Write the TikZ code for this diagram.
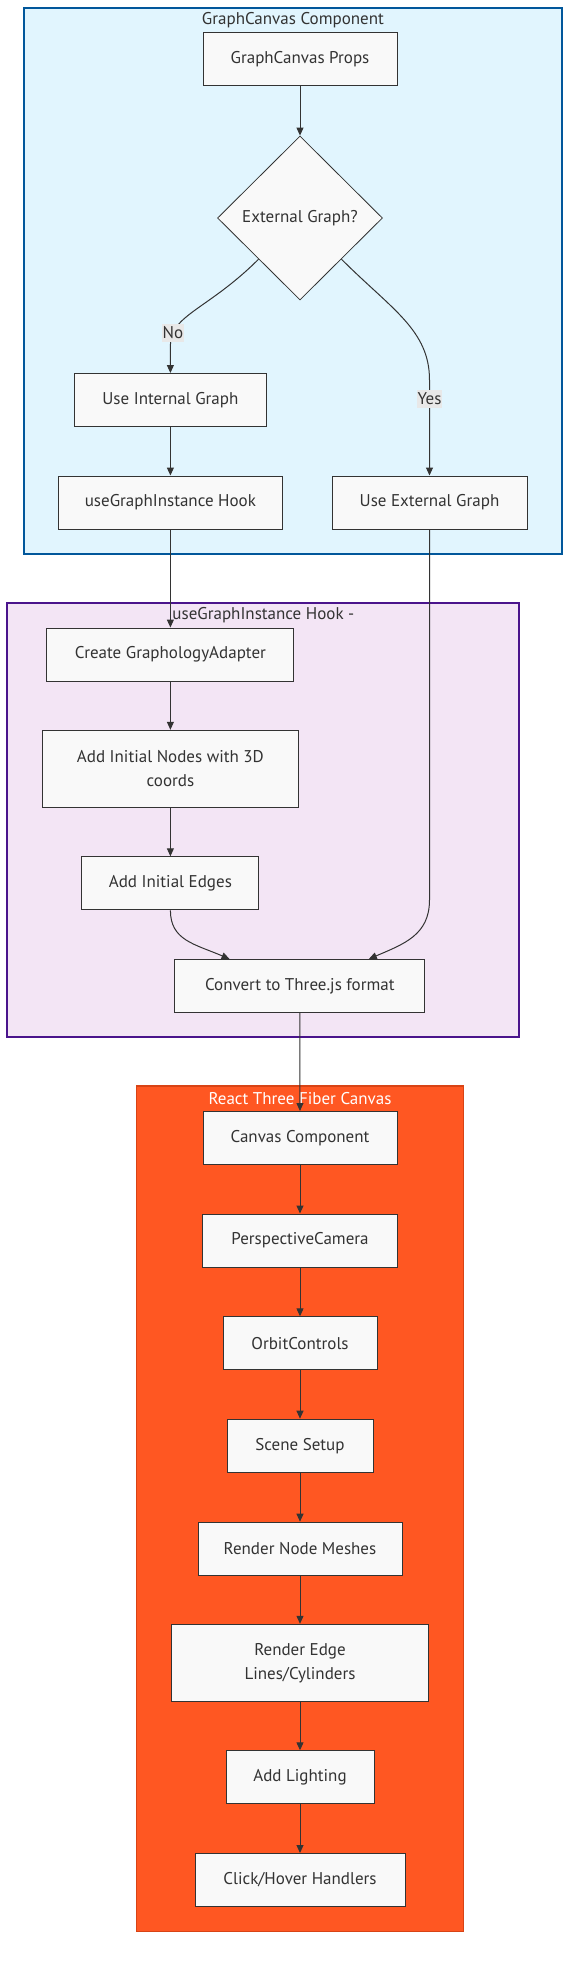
\documentclass[tikz,border=0pt]{standalone}
\usepackage{fontspec}
\setmainfont{PT Sans}
\usetikzlibrary{shapes.geometric, arrows.meta, calc}

\definecolor{gcfill}{HTML}{E1F5FE}
\definecolor{gcborder}{HTML}{01579B}
\definecolor{hookfill}{HTML}{F3E5F5}
\definecolor{hookborder}{HTML}{4A148C}
\definecolor{rtffill}{HTML}{FF5722}
\definecolor{rtfborder}{HTML}{D84315}
\definecolor{nodefill}{HTML}{F9F9F9}
\definecolor{darkgray}{HTML}{333333}
\definecolor{labelbg}{HTML}{E8E8E8}

\begin{document}
\begin{tikzpicture}[x=1pt, y=1pt, font=\fontsize{17}{24}\selectfont,
    main/.style = {draw=darkgray, fill=nodefill, line width=1pt, rectangle, minimum height=53pt, inner sep=0pt, align=center, text=darkgray},
    decision/.style = {draw=darkgray, fill=nodefill, line width=0.8pt, diamond, aspect=1, minimum width=165pt, minimum height=164pt, inner sep=0pt, text=darkgray},
    group/.style = {rectangle, line width=2pt, inner sep=0pt},
    grouptitle/.style = {inner sep=0pt, text=darkgray},
    lbl/.style = {fill=labelbg, inner xsep=1pt, inner ysep=3pt, text=darkgray},
    flow/.style = {-{Triangle[length=8pt, width=7pt]}, draw=darkgray, line width=1pt}]

    \useasboundingbox (0,0) rectangle (578,-1966);

    \node[group, draw=gcborder, fill=gcfill, minimum width=537.7pt, minimum height=546.5pt] (gc) at (292.85,-280.75) {};
    \node[group, draw=hookborder, fill=hookfill, minimum width=512pt, minimum height=433.7pt] (hk) at (263.4,-820.15) {};
    \node[group, draw=rtfborder, fill=rtffill, line width=1.5pt, minimum width=326.7pt, minimum height=845.7pt] (rtf) at (300.05,-1508.85) {};

    \node[grouptitle] (gctitle) at (292.9,-20) {GraphCanvas Component};
    \node[grouptitle] (hktitle) at (263.4,-615) {useGraphInstance Hook -};
    \node[grouptitle, text=white] (rtftitle) at (300,-1098.5) {React Three Fiber Canvas};

    \node[main, minimum width=194pt] (props) at (300,-59) {GraphCanvas Props};
    \node[decision] (ext) at (300,-218) {External Graph?};
    \node[main, minimum width=192pt] (internal) at (170.4,-400) {Use Internal Graph};
    \node[main, minimum width=224pt] (hook) at (170.4,-502.5) {useGraphInstance Hook};
    \node[main, minimum width=195pt] (external) at (429.5,-502.5) {Use External Graph};

    \node[main, minimum width=247pt] (adapter) at (170.4,-654.5) {Create GraphologyAdapter};
    \node[main, minimum width=256pt, minimum height=77pt] (addnodes) at (170.4,-768.8) {Add Initial Nodes with 3D\\coords};
    \node[main, minimum width=177pt] (addedges) at (170.4,-883.3) {Add Initial Edges};
    \node[main, minimum width=250pt] (convert) at (299.8,-986) {Convert to Three.js format};

    \node[main, minimum width=194pt] (canvas) at (300,-1138) {Canvas Component};
    \node[main, minimum width=195pt] (camera) at (300,-1240.5) {PerspectiveCamera};
    \node[main, minimum width=154pt] (orbit) at (300,-1343.3) {OrbitControls};
    \node[main, minimum width=146pt] (scene) at (300,-1445.7) {Scene Setup};
    \node[main, minimum width=204pt] (meshes) at (300,-1548.7) {Render Node Meshes};
    \node[main, minimum width=257pt, minimum height=77pt] (lines) at (300,-1662.8) {Render Edge\\Lines/Cylinders};
    \node[main, minimum width=148pt] (lighting) at (300,-1777.3) {Add Lighting};
    \node[main, minimum width=210pt] (handlers) at (300,-1880) {Click/Hover Handlers};

    \coordinate (nobend) at (170.4,-345);
    \coordinate (yesbend) at (429.5,-380);
    \coordinate (extbend) at (429.5,-900);

    \draw[flow] (props) -- (ext);
    \draw[flow] (ext.south west) .. controls +(-50,-50) and +(0,30) .. (nobend) node[lbl, pos=0.85] {No} -- (internal);
    \draw[flow] (ext.south east) .. controls +(50,-50) and +(0,50) .. (yesbend) -- (external) node[lbl, pos=0.2] {Yes};
    \draw[flow] (internal) -- (hook);
    \draw[flow] (hook) -- (adapter);
    \draw[flow] (adapter) -- (addnodes);
    \draw[flow] (addnodes) -- (addedges);
    \draw[flow] (addedges.south) .. controls +(0,-30) and +(-35,15) .. ($(convert.north)!0.56!(convert.north west)$);
    \draw[flow] (external) -- (extbend) .. controls +(0,-35) and +(35,15) .. ($(convert.north)!0.55!(convert.north east)$);
    \draw[flow] (convert) -- (canvas);

    \draw[flow] (canvas) -- (camera);
    \draw[flow] (camera) -- (orbit);
    \draw[flow] (orbit) -- (scene);
    \draw[flow] (scene) -- (meshes);
    \draw[flow] (meshes) -- (lines);
    \draw[flow] (lines) -- (lighting);
    \draw[flow] (lighting) -- (handlers);

\end{tikzpicture}
\end{document}
